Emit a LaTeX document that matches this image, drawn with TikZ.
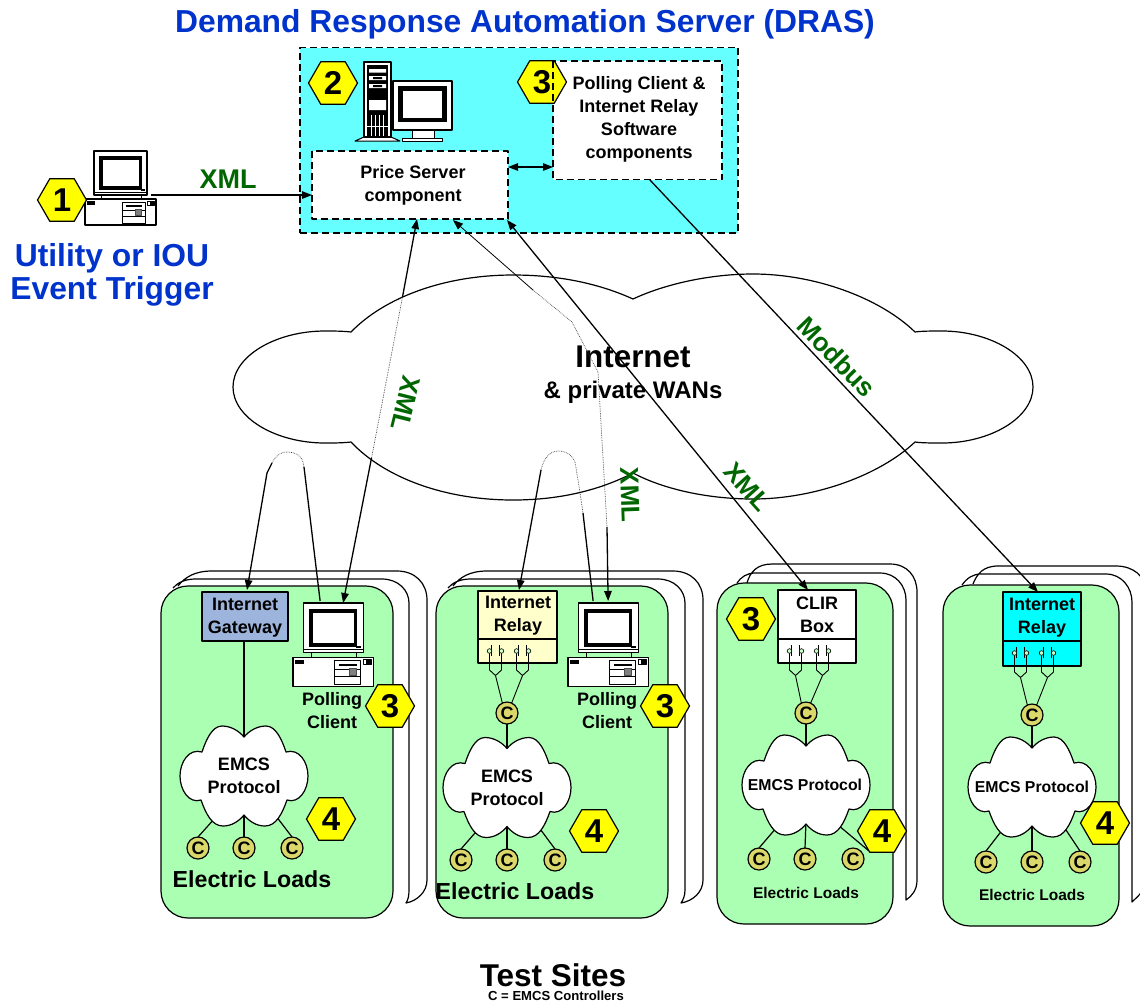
\documentclass[tikz,border=0pt]{standalone}
\usepackage{fontspec}
\setmainfont{Liberation Sans}
\usetikzlibrary{arrows.meta,shapes.geometric,calc}
\definecolor{sitegreen}{HTML}{ABFFB2}
\definecolor{drascyan}{HTML}{66FFFF}
\definecolor{ctrlfill}{HTML}{DAD86A}
\definecolor{gwblue}{HTML}{9DB4DC}
\definecolor{relayyel}{HTML}{FFFFCC}
\definecolor{relaycyan}{HTML}{00FFFF}
\definecolor{hexyellow}{HTML}{FFFF00}
\definecolor{lblgreen}{HTML}{006600}
\definecolor{ttlblue}{HTML}{0033CC}
\definecolor{contactfill}{HTML}{C8FFC8}
\tikzset{
  x=1pt,y=-1pt,
  ln/.style={draw=black,line width=1.2pt},
  thinln/.style={draw=black,line width=0.9pt},
  conn/.style={draw=black,line width=1.3pt},
  dotln/.style={draw=black!75,line width=0.7pt,densely dotted},
  tip/.style={arrows={-{Triangle[length=10pt,width=7.5pt]}}},
  tipb/.style={arrows={{Triangle[length=10pt,width=7.5pt]}-}},
  tipbb/.style={arrows={{Triangle[length=10pt,width=7.5pt]}-{Triangle[length=10pt,width=7.5pt]}}},
  bxnode/.style={anchor=north west,inner sep=0pt,outer sep=0pt},
  hexbox/.style={regular polygon,regular polygon sides=6,minimum size=49pt,inner sep=0pt,outer sep=0pt,fill=hexyellow,draw=black,line width=1.2pt},
  hexdigit/.style={font=\bfseries\fontsize{33}{33}\selectfont,inner sep=0pt},
  ctrl/.style={circle,minimum size=22pt,inner sep=0pt,outer sep=0pt,fill=ctrlfill,draw=black,line width=1.2pt,font=\bfseries\fontsize{18}{18}\selectfont},
  boxtext/.style={font=\bfseries\fontsize{18}{23}\selectfont,align=center,inner sep=0pt},
  emcstext/.style={font=\bfseries\fontsize{18}{23}\selectfont,align=center,inner sep=0pt},
  emcssmall/.style={font=\bfseries\fontsize{15.8}{20}\selectfont,inner sep=0pt},
  loadbig/.style={font=\bfseries\fontsize{23.2}{26}\selectfont,inner sep=0pt},
  loadsmall/.style={font=\bfseries\fontsize{15.5}{18}\selectfont,inner sep=0pt},
  protolbl/.style={font=\bfseries\fontsize{26}{26}\selectfont,text=lblgreen,inner sep=0pt},
  bluetitle/.style={font=\bfseries\fontsize{31.8}{33}\selectfont,text=ttlblue,align=center,inner sep=0pt},
  sitebox/.style={bxnode,fill=sitegreen,draw=black,line width=1.2pt,rounded corners=27pt},
  backsheet/.style={fill=white,draw=black,line width=1.2pt},
}
% name, x1, y1, x2, y2, style
\newcommand{\bxn}[6]{\node[bxnode,#6,minimum width={(#4-#2)*1pt},minimum height={(#5-#3)*1pt}] (#1) at (#2,#3) {};}
% hexagon: name, x, y, digit
\newcommand{\hexn}[4]{\node[hexbox] (#1) at (#2,#3) {}; \node[hexdigit] (#1t) at (#2,#3) {#4};}
% desktop computer: name, x, y, scale
\newcommand{\pcdesk}[4]{%
\begin{scope}[shift={(#2,#3)},scale=#4]
 \node[bxnode,fill=white,draw=black,line width=1.1pt,minimum width={#4*53pt},minimum height={#4*44pt}] (#1) at (9,0) {};
 \fill[black] (14,5) rectangle (57,39);
 \fill[white] (18,9) rectangle (54,35);
 \draw[black,line width=0.7pt] (9,41) -- (62,41);
 \fill[black] (56,38) rectangle (60,40);
 \draw[black,line width=0.8pt] (16,44) -- (16,48) (56,44) -- (56,48);
 \draw[black,line width=1.1pt,fill=white] (0,48) rectangle (71,74);
 \fill[black] (2,50) rectangle (10,54);
 \draw[black,line width=0.7pt,fill=white] (62,50) rectangle (69,54);
 \fill[black] (65,50) rectangle (69,54);
 \draw[black,line width=0.8pt] (37,51) rectangle (60,72);
 \fill[black] (41,54) rectangle (57,56);
 \draw[black,line width=0.7pt] (37,59) -- (60,59) (37,65) -- (60,65);
 \draw[black!70,line width=0.8pt,fill=black!50] (50,58) rectangle (56,64);
\end{scope}}
% relay box: name, x1, y1, ydiv, x2, y2, fill
\newcommand{\relaybx}[7]{%
 \bxn{#1}{#2}{#3}{#5}{#6}{fill=#7,draw=black,line width=1.2pt}
 \draw[ln] (#1.west |- 0,#4) -- (#1.east |- 0,#4);
 \begin{scope}[shift={(#2,#4)}]
  \draw[thinln] (11.5,12) -- (11.5,31) -- (17.5,36.5) -- (23.5,31) -- (23.5,12);
  \draw[thinln] (38.5,12) -- (38.5,31) -- (44.5,36.5) -- (50.5,31) -- (50.5,12);
  \draw[thinln] (13.5,6) -- (13.5,17) (21.5,6) -- (21.5,17) (40.5,6) -- (40.5,17) (48.5,6) -- (48.5,17);
  \foreach \q in {11.5,23.5,38.5,50.5} {\draw[black,line width=0.6pt,fill=contactfill] (\q,12) circle[radius=2.3pt];}
  \coordinate (#1j1) at (17.5,36.5);
  \coordinate (#1j2) at (44.5,36.5);
 \end{scope}}
% anchor points of a small cloud: name, cx, cy
\newcommand{\emcscoords}[3]{%
 \begin{scope}[shift={(#2,#3)}]
  \coordinate (#1t) at (0,-39);
  \coordinate (#1m) at (0,36);
  \coordinate (#1l) at (-29,42);
  \coordinate (#1r) at (32,40);
 \end{scope}}
% small cloud: cx, cy
\newcommand{\emcscloud}[2]{%
 \begin{scope}[shift={(#1,#2)}]
  \draw[fill=white,draw=black,line width=1.2pt]
   (0,-39) .. controls (-5,-45) and (-13,-50) .. (-22,-50)
   .. controls (-32,-50) and (-38,-36) .. (-42,-24)
   .. controls (-55,-28) and (-64,-14) .. (-64,0)
   .. controls (-64,14) and (-55,28) .. (-43,24)
   .. controls (-38,38) and (-32,50) .. (-21,50)
   .. controls (-12,50) and (-5,45) .. (0,39)
   .. controls (5,45) and (12,50) .. (21,50)
   .. controls (32,50) and (38,38) .. (43,24)
   .. controls (55,28) and (64,14) .. (64,0)
   .. controls (64,-14) and (55,-28) .. (42,-24)
   .. controls (38,-36) and (32,-50) .. (22,-50)
   .. controls (13,-50) and (5,-45) .. (0,-39) -- cycle;
 \end{scope}}
\begin{document}
\begin{tikzpicture}[line join=round]
\useasboundingbox (0,0) rectangle (1140,1005);
\clip (0,0) rectangle (1140,1005);
\fill[white] (0,0) rectangle (1140,1005);

% titles
\node[bluetitle] (title) at (525,24) {Demand Response Automation Server (DRAS)};
\node[bluetitle] (utility) at (112,274.5) {Utility or IOU\\Event Trigger};

% DRAS
\bxn{dras}{300}{47.5}{738}{233}{fill=drascyan,draw=black,line width=1.3pt,dash pattern=on 7pt off 4pt}

% server
\draw[black,line width=1pt,fill=white] (355,141) -- (364,137) -- (391,137) -- (400,141) -- cycle;
\node[bxnode,fill=white,draw=black,line width=1.1pt,minimum width=27pt,minimum height=75pt] (tower) at (364,62) {};
\fill[black] (367,65) rectangle (388,137);
\fill[white] (369,69) rectangle (386,72.5) (369,76) rectangle (386,80) (369,84) rectangle (386,88) (369,100) rectangle (386,110);
\draw[white,line width=0.5pt] (371,115) -- (371,136) (375,115) -- (375,136) (379,115) -- (379,136) (383,115) -- (383,136) (367,126) -- (388,126);
\fill[black] (373,77) rectangle (382,79) (373,85) rectangle (382,87);
\node[bxnode,fill=white,draw=black,line width=1.1pt,minimum width=59pt,minimum height=49pt] (srvmon) at (393,81) {};
\fill[black] (398,86) rectangle (447,122);
\fill[white] (403,91) rectangle (442,118);
\draw[black,line width=1pt,fill=white] (412,130) rectangle (434,138);
\draw[black,line width=1pt,fill=white] (402,138) rectangle (442,141);

% Price server and polling box
\bxn{ps}{312}{151}{508}{219}{fill=white}
\draw[draw=black,line width=1.2pt,dash pattern=on 7pt off 4pt] (ps.north west) rectangle (ps.south east);
\bxn{pb}{553}{61}{722}{179.5}{fill=white}
\hexn{h2}{333}{83}{2}
\hexn{h3top}{542}{82}{3}
\draw[draw=black,line width=1.2pt,dash pattern=on 7pt off 4pt] (pb.north west) rectangle (pb.south east);
\node[boxtext] (pstext) at (413,185) {Price Server\\component};
\node[boxtext] (pbtext) at (639,119.5) {Polling Client \&\\Internet Relay\\Software\\components};

% Utility computer
\pcdesk{pc0}{85}{151}{1}
\hexn{h1}{62}{200}{1}

% main cloud
\draw[fill=white,draw=black,line width=1.2pt]
 (351,332) .. controls (342,331) and (334,331) .. (325,331)
 .. controls (276,331) and (233,356) .. (233,387)
 .. controls (233,418) and (276,443) .. (325,443)
 .. controls (334,443) and (342,443) .. (351,442)
 .. controls (385,478) and (445,500) .. (513,500)
 .. controls (560,500) and (600,490) .. (633,473)
 .. controls (665,490) and (710,499) .. (753,499)
 .. controls (815,499) and (880,475) .. (915,442)
 .. controls (922,443) and (932,443) .. (942,443)
 .. controls (990,443) and (1033,418) .. (1033,387)
 .. controls (1033,356) and (990,331) .. (942,331)
 .. controls (932,331) and (922,331) .. (915,332)
 .. controls (880,298) and (815,274) .. (753,274)
 .. controls (710,274) and (665,284) .. (633,299)
 .. controls (600,284) and (560,275) .. (513,275)
 .. controls (445,275) and (385,297) .. (351,332) -- cycle;
\node[font=\bfseries\fontsize{31.4}{33}\selectfont,inner sep=0pt] (inet) at (633,357) {Internet};
\node[font=\bfseries\fontsize{24}{26}\selectfont,inner sep=0pt] (wan) at (633,392) {\& private WANs};

% Back sheets site 1
\draw[backsheet] (178,586) .. controls (185,577) and (195,571) .. (212,571) -- (397,571) .. controls (415,571) and (427,583) .. (427,600) -- (427,880) .. controls (427,892) and (417,901) .. (406,903) .. controls (408,900) and (409,896) .. (409,890) -- (409,603) .. controls (409,590) and (398,579) .. (382,579) -- (195,579) .. controls (185,579) and (177,583) .. (173,588);
% Back sheets site 2
\draw[backsheet] (453,586) .. controls (460,577) and (470,571) .. (487,571) -- (673,571) .. controls (691,571) and (703,583) .. (703,600) -- (703,880) .. controls (703,892) and (693,901) .. (681,903) .. controls (683,900) and (685,896) .. (685,890) -- (685,603) .. controls (685,590) and (674,579) .. (658,579) -- (470,579) .. controls (460,579) and (452,583) .. (448,588);
% Back sheets site 3
\draw[backsheet] (747,583) .. controls (750,572) and (757,564) .. (772,564) -- (890,564) .. controls (907,564) and (917,576) .. (917,592) -- (917,880) .. controls (917,890) and (912,896) .. (906,900) -- (906,600) .. controls (906,586) and (896,573) .. (880,573) -- (755,573) .. controls (747,573) and (741,577) .. (737,583);
% Back sheets site 4
\draw[backsheet] (973,584) .. controls (977,574) and (983,566) .. (998,566) -- (1116,566) .. controls (1133,566) and (1146,576) .. (1146,592) -- (1146,880) .. controls (1146,890) and (1138,896) .. (1132,902) -- (1132,602) .. controls (1132,588) and (1122,574) .. (1106,574) -- (981,574) .. controls (973,574) and (967,578) .. (962,585);

% Sites
\bxn{site1}{161}{586}{393}{918}{sitebox}
\bxn{site2}{436}{586}{668}{918}{sitebox}
\bxn{site3}{717}{583}{893}{924}{sitebox}
\bxn{site4}{943}{585}{1119}{926}{sitebox}

% Site 1 content
\bxn{gw}{202}{592}{288}{641}{fill=gwblue,draw=black,line width=1.2pt}
\node[boxtext] (gwtext) at (245,617.5) {Internet\\Gateway};
\pcdesk{pc1}{293}{603}{1.13}
\node[boxtext] (pc1text) at (332,710.5) {Polling\\Client};
\emcscoords{cl1}{244}{776}
\node[ctrl] (c11) at (198,848) {C};
\node[ctrl] (c12) at (244,848) {C};
\node[ctrl] (c13) at (292,848) {C};
\draw[ln] (gw.south -| cl1t) -- (cl1t);
\draw[ln] (cl1l) -- (c11.north);
\draw[ln] (cl1m) -- (c12.north);
\draw[ln] (cl1r) -- (c13.north);
\emcscloud{244}{776}
\node[emcstext] (cl1text) at (244,775.5) {EMCS\\Protocol};
\node[loadbig] (load1) at (252,879) {Electric Loads};

% Site 2 content
\relaybx{rl2}{478}{591}{639}{557}{663}{relayyel}
\node[boxtext] (rl2text) at (518,615.5) {Internet\\Relay};
\pcdesk{pc2}{568}{603}{1.13}
\node[boxtext] (pc2text) at (607,710.5) {Polling\\Client};
\emcscoords{cl2}{507}{787.5}
\node[ctrl] (c20) at (507,713) {C};
\node[ctrl] (c21) at (461,860) {C};
\node[ctrl] (c22) at (507,860) {C};
\node[ctrl] (c23) at (555,860) {C};
\draw[thinln] (rl2j1) -- (c20.115);
\draw[thinln] (rl2j2) -- (c20.65);
\draw[ln] (c20.south) -- (cl2t);
\draw[ln] (cl2l) -- (c21.north);
\draw[ln] (cl2m) -- (c22.north);
\draw[ln] (cl2r) -- (c23.north);
\emcscloud{507}{787.5}
\node[emcstext] (cl2text) at (507,787.5) {EMCS\\Protocol};
\node[loadbig] (load2) at (515,891) {Electric Loads};

% Site 3 content
\relaybx{clir}{778}{590}{639}{856}{663}{white}
\node[boxtext] (clirtext) at (817,614.5) {CLIR\\Box};
\emcscoords{cl3}{806}{785}
\node[ctrl] (c30) at (806,713) {C};
\node[ctrl] (c31) at (759,859) {C};
\node[ctrl] (c32) at (805,859) {C};
\node[ctrl] (c33) at (853,859) {C};
\draw[thinln] (clirj1) -- (c30.115);
\draw[thinln] (clirj2) -- (c30.65);
\draw[ln] (c30.south) -- (cl3t);
\draw[ln] (cl3l) -- (c31.north);
\draw[ln] (cl3m) -- (c32.north);
\coordinate (h43foot) at (869,851);
\draw[ln] (cl3r) -- (h43foot);
\emcscloud{806}{785}
\node[emcssmall] (cl3text) at (805,784.5) {EMCS Protocol};
\node[loadsmall] (load3) at (806,892.5) {Electric Loads};

% Site 4 content
\relaybx{rl4}{1003}{592}{641}{1081}{666}{relaycyan}
\node[boxtext] (rl4text) at (1042,617.5) {Internet\\Relay};
\emcscoords{cl4}{1032}{787}
\node[ctrl] (c40) at (1032,715) {C};
\node[ctrl] (c41) at (986,862) {C};
\node[ctrl] (c42) at (1032,862) {C};
\node[ctrl] (c43) at (1080,862) {C};
\draw[thinln] (rl4j1) -- (c40.115);
\draw[thinln] (rl4j2) -- (c40.65);
\draw[ln] (c40.south) -- (cl4t);
\draw[ln] (cl4l) -- (c41.north);
\draw[ln] (cl4m) -- (c42.north);
\draw[ln] (cl4r) -- (c43.north);
\emcscloud{1032}{787}
\node[emcssmall] (cl4text) at (1032,786.5) {EMCS Protocol};
\node[loadsmall] (load4) at (1032,894.5) {Electric Loads};

% Hexagons on sites
\hexn{h31}{390}{706}{3}
\hexn{h32}{665}{706}{3}
\hexn{h33}{751}{619}{3}
\hexn{h41}{331}{819}{4}
\hexn{h42}{594}{831}{4}
\hexn{h43}{882}{831}{4}
\hexn{h44}{1105}{823}{4}

% Connectors
\draw[conn,tip] ([xshift=4pt]pc0.south east) -- ([yshift=-10pt]ps.west);
\draw[conn,tipbb] ([yshift=18pt]ps.east) -- ([yshift=18pt]ps.east -| pb.west);

% Price server <-> polling client 1
\coordinate (xa1) at (402.5,297);
\coordinate (xa2) at (371.5,458);
\draw[conn,tipb] ([xshift=7pt]ps.south) -- (xa1);
\draw[dotln] (xa1) -- (xa2);
\draw[conn,tip] (xa2) -- ([xshift=10pt]pc1.north);

% Hump site 1
\coordinate (ha1) at (267,473);
\coordinate (ha2) at (272,463);
\coordinate (ha3) at (287,452);
\coordinate (ha4) at (303,462);
\coordinate (ha5) at (304,467);
\draw[conn,tip] (ha1) -- ([xshift=2pt,yshift=2pt]gw.north);
\draw[conn] (ha1) -- (ha2);
\draw[dotln] (ha2) .. controls (276,455) and (281,452) .. (ha3) .. controls (295,452) and (302,456) .. (ha4) -- (ha5);
\draw[conn] (ha5) -- ([xshift=-13pt,yshift=2pt]pc1.north);

% Hump site 2
\coordinate (hb1) at (541,470);
\coordinate (hb2) at (558,451);
\coordinate (hb3) at (575,462);
\coordinate (hb4) at (583,513);
\draw[conn,tip] (hb1) -- ([xshift=1.5pt,yshift=1pt]rl2.north);
\draw[dotln] (hb1) .. controls (544,458) and (550,451) .. (hb2) .. controls (567,451) and (573,456) .. (hb3) -- (578,480) -- (hb4);
\draw[conn] (hb4) -- ([xshift=-15pt,yshift=2pt]pc2.north);

% Price server <-> polling client 2
\coordinate (xc1) at (533,290);
\coordinate (xc2) at (572,322);
\coordinate (xc3) at (598,372);
\coordinate (xc4) at (607,527);
\draw[conn,tipb,line width=0.8pt] ([xshift=43pt,yshift=-1pt]ps.south) -- (xc1);
\draw[dotln] (xc1) -- (xc2) -- (xc3) -- (xc4);
\draw[conn,tip] (xc4) -- ([yshift=2pt]pc2.north);

% Price server <-> CLIR
\draw[conn,tipbb] ([xshift=97pt,yshift=-1pt]ps.south) -- ([xshift=-9pt]clir.north);
% Polling box -> relay at site 4
\draw[conn,tip] ([xshift=12pt]pb.south) -- ([xshift=-4pt]rl4.north);

% Protocol labels
\node[protolbl,font=\bfseries\fontsize{27}{27}\selectfont] (xml0) at (228,179) {XML};
\node[protolbl,rotate=-104] (xml1) at (406,403) {XML};
\node[protolbl,rotate=-88] (xml2) at (630,495) {XML};
\node[protolbl,rotate=-48] (xml3) at (747,487) {XML};
\node[protolbl,rotate=-46,font=\bfseries\fontsize{26}{26}\selectfont] (modbus) at (837,357) {Modbus};

% Bottom text
\node[font=\bfseries\fontsize{31.5}{33}\selectfont,inner sep=0pt] (testsites) at (553,975) {Test Sites};
\node[font=\bfseries\fontsize{13.1}{16}\selectfont,inner sep=0pt] (legend) at (556,996) {C = EMCS Controllers};
\end{tikzpicture}
\end{document}
